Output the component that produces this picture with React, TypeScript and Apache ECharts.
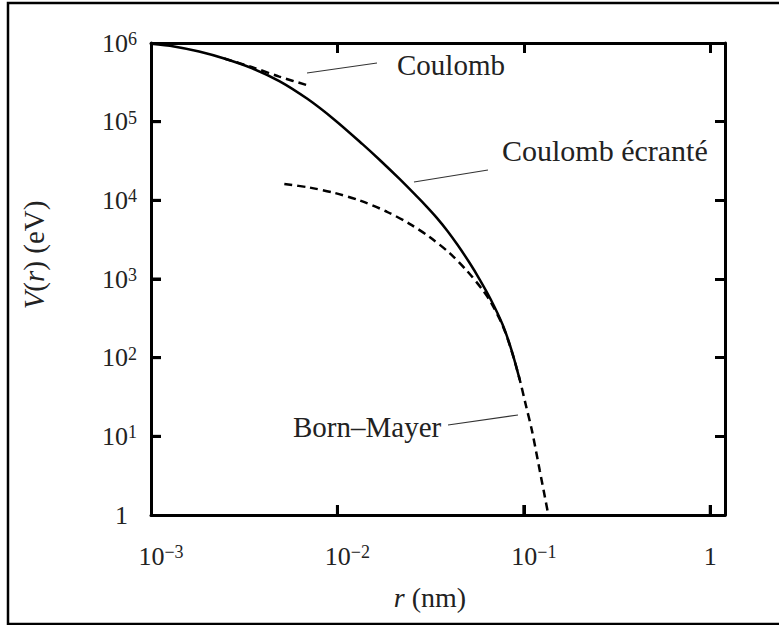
import React, { useEffect, useRef } from "react";
import * as echarts from "echarts";

// ---- data ----
// screened Coulomb potential (solid)
const screenedR = [1.0e-3, 1.329e-3, 1.811e-3, 2.47e-3, 3.491e-3, 4.878e-3, 6.898e-3, 9.636e-3, 1.363e-2, 1.682e-2, 2.154e-2, 2.693e-2, 3.011e-2, 3.405e-2, 3.902e-2, 4.417e-2, 5.124e-2, 5.799e-2, 6.648e-2, 7.712e-2, 8.62e-2, 9.517e-2];
const screenedV = [9.76e5, 9.05e5, 7.79e5, 6.35e5, 4.77e5, 3.28e5, 1.95e5, 1.059e5, 5.18e4, 3.28e4, 1.87e4, 1.096e4, 8.32e3, 6.03e3, 4.05e3, 2.7e3, 1.597e3, 985, 549, 260, 121.5, 52];
// bare Coulomb (dashed, top)
const coulombR = [2.47e-3, 3.491e-3, 4.878e-3, 7.071e-3];
const coulombV = [6.35e5, 4.92e5, 3.74e5, 2.85e5];
// Born–Mayer (dashed)
const bornMayerR = [5.19e-3, 7.071e-3, 9.636e-3, 1.313e-2, 1.834e-2, 2.438e-2, 3.124e-2, 4.001e-2, 4.937e-2, 6.019e-2, 6.648e-2, 7.712e-2, 8.62e-2, 9.517e-2, 0.1025, 0.1104, 0.1219, 0.1354];
const bornMayerV = [1.613e4, 1.455e4, 1.243e4, 9.98e3, 7.21e3, 5.03e3, 3.42e3, 2.13e3, 1.282e3, 725, 510, 253, 119.7, 52, 25, 12, 3.62, 1];
// axis ranges and tick values
const xMin = 0.001;
const xMax = 1.2;
const yMin = 1;
const yMax = 1e6;
const xTickValues = [0.01, 0.1, 1];
const yTickValues = [10, 100, 1000, 1e4, 1e5];

const FONT = "Liberation Serif";
const TEXT = "#222";
const TICK_LEN = 10;

const pairs = (xs: number[], ys: number[]) => xs.map((x, i) => [x, ys[i]]);

const expOf = (v: number) => {
  const l = Math.log10(v);
  const e = Math.round(l);
  return Math.abs(l - e) < 1e-6 ? e : null;
};
const supText = (e: number) => (e < 0 ? "\u2212" + -e : String(e));

const richCommon = () => ({
  b: { fontSize: 26, lineHeight: 26, fontFamily: FONT, color: TEXT },
  bx: { fontSize: 26, lineHeight: 26, fontFamily: FONT, color: TEXT, padding: [0, 0, 0, 20] },
  one: { fontSize: 26, lineHeight: 26, fontFamily: FONT, color: TEXT },
  oneY: { fontSize: 26, lineHeight: 26, fontFamily: FONT, color: TEXT, padding: [0, 9, 0, 0] },
  s: { fontSize: 18, lineHeight: 10, verticalAlign: "top", fontFamily: FONT, color: TEXT },
});

const mkLine = () => ({ show: true, onZero: false, lineStyle: { color: "#000", width: 3 } });
const mkTick = () => ({ show: true, inside: true, length: TICK_LEN, interval: 0, lineStyle: { color: "#000", width: 3 } });

// unlabeled log axes for the mirrored top / right frame with inward ticks
const frameX = (position: string) => ({
  type: "log",
  logBase: 10,
  min: xMin,
  max: xMax,
  position,
  axisLine: mkLine(),
  axisTick: mkTick(),
  splitLine: { show: false },
  axisLabel: { show: false },
});
const frameY = (position: string) => ({
  type: "log",
  logBase: 10,
  min: yMin,
  max: yMax,
  position,
  axisLine: mkLine(),
  axisTick: mkTick(),
  splitLine: { show: false },
  axisLabel: { show: false },
});

// tick marks for the bottom (kind 0) and left (kind 1) axes, placed through the axes' scales
const tickData = [
  ...xTickValues.map((v) => [v, yMin, 0]),
  ...yTickValues.map((v) => [xMin, v, 1]),
];

export default function App() {
  const ref = useRef<HTMLDivElement>(null);
  useEffect(() => {
    if (!ref.current) return;
    const chart = echarts.init(ref.current, undefined, { renderer: "svg" });
    const option: any = {
      animation: false,
      textStyle: { fontFamily: FONT, color: TEXT },
      grid: { left: 151, top: 43, right: 54, bottom: 110, containLabel: false },
      xAxis: [
        {
          type: "log",
          logBase: 10,
          min: xMin,
          max: xMax,
          position: "bottom",
          axisLine: mkLine(),
          axisTick: mkTick(),
          splitLine: { show: false },
          axisLabel: {
            show: true,
            margin: 28,
            fontFamily: FONT,
            rich: richCommon(),
            formatter: (v: number) => {
              const e = expOf(v);
              if (e === null) return "";
              return e === 0 ? "{one|1}" : `{bx|10}{s|${supText(e)}}`;
            },
          },
          name: "{i|r} (nm)",
          nameLocation: "middle",
          nameGap: 68,
          nameTextStyle: {
            fontSize: 28,
            fontFamily: FONT,
            color: TEXT,
            padding: [0, 16, 0, 0],
            rich: { i: { fontSize: 28, fontStyle: "italic", fontFamily: FONT, color: TEXT } },
          },
        },
        frameX("top"),
      ],
      yAxis: [
        {
          type: "log",
          logBase: 10,
          min: yMin,
          max: yMax,
          position: "left",
          axisLine: mkLine(),
          axisTick: mkTick(),
          splitLine: { show: false },
          axisLabel: {
            show: true,
            margin: 14,
            fontFamily: FONT,
            rich: richCommon(),
            formatter: (v: number) => {
              const e = expOf(v);
              if (e === null) return "";
              return e === 0 ? "{oneY|1}" : `{b|10}{s|${supText(e)}}`;
            },
          },
        },
        frameY("right"),
      ],
      series: [
        {
          name: "Coulomb écranté",
          type: "line",
          data: pairs(screenedR, screenedV),
          smooth: 0.3,
          showSymbol: false,
          lineStyle: { color: "#000", width: 2.5, type: "solid" },
        },
        {
          name: "Coulomb",
          type: "line",
          data: pairs(coulombR, coulombV),
          smooth: 0.3,
          showSymbol: false,
          lineStyle: { color: "#000", width: 2.5, type: [8, 5] },
        },
        {
          name: "Born–Mayer",
          type: "line",
          data: pairs(bornMayerR, bornMayerV),
          smooth: 0.3,
          showSymbol: false,
          lineStyle: { color: "#000", width: 2.5, type: [8, 5] },
        },
        {
          name: "ticks",
          type: "custom",
          xAxisIndex: 0,
          yAxisIndex: 0,
          clip: false,
          silent: true,
          z: 10,
          data: tickData,
          encode: { x: 0, y: 1 },
          renderItem: (_params: any, api: any) => {
            const p = api.coord([api.value(0), api.value(1)]);
            const kind = api.value(2);
            const shape =
              kind === 0
                ? { x1: p[0], y1: p[1], x2: p[0], y2: p[1] - TICK_LEN }
                : { x1: p[0], y1: p[1], x2: p[0] + TICK_LEN, y2: p[1] };
            return {
              type: "line",
              shape,
              style: { stroke: "#000", lineWidth: 3, fill: null },
            };
          },
        },
      ],
      graphic: [
        {
          type: "rect",
          shape: { x: 8, y: 3, width: 790, height: 621 },
          style: { fill: "none", stroke: "#000", lineWidth: 2.5 },
          silent: true,
        },
        {
          type: "text",
          x: 34,
          y: 255,
          rotation: Math.PI / 2,
          style: {
            text: "{i|V}({i|r}) (eV)",
            align: "center",
            verticalAlign: "middle",
            fontSize: 29,
            fontFamily: FONT,
            fill: TEXT,
            rich: { i: { fontSize: 29, fontStyle: "italic", fontFamily: FONT, fill: TEXT } },
          },
        },
        {
          type: "text",
          x: 397,
          y: 65,
          style: { text: "Coulomb", fontSize: 29, fontFamily: FONT, fill: TEXT, align: "left", verticalAlign: "middle" },
        },
        {
          type: "line",
          shape: { x1: 307, y1: 73, x2: 377, y2: 63 },
          style: { stroke: "#333", lineWidth: 1.2 },
        },
        {
          type: "text",
          x: 502,
          y: 150,
          style: { text: "Coulomb écranté", fontSize: 30, fontFamily: FONT, fill: TEXT, align: "left", verticalAlign: "middle" },
        },
        {
          type: "line",
          shape: { x1: 414, y1: 182, x2: 488, y2: 170 },
          style: { stroke: "#333", lineWidth: 1.2 },
        },
        {
          type: "text",
          x: 293,
          y: 427,
          style: { text: "Born–Mayer", fontSize: 29, fontFamily: FONT, fill: TEXT, align: "left", verticalAlign: "middle" },
        },
        {
          type: "line",
          shape: { x1: 448, y1: 425, x2: 518, y2: 415 },
          style: { stroke: "#333", lineWidth: 1.2 },
        },
      ],
    };
    chart.setOption(option);
    return () => chart.dispose();
  }, []);
  return (
    <div
      ref={ref}
      style={{ position: "fixed", left: 0, top: 0, width: 779, height: 625, background: "#fff" }}
    />
  );
}
